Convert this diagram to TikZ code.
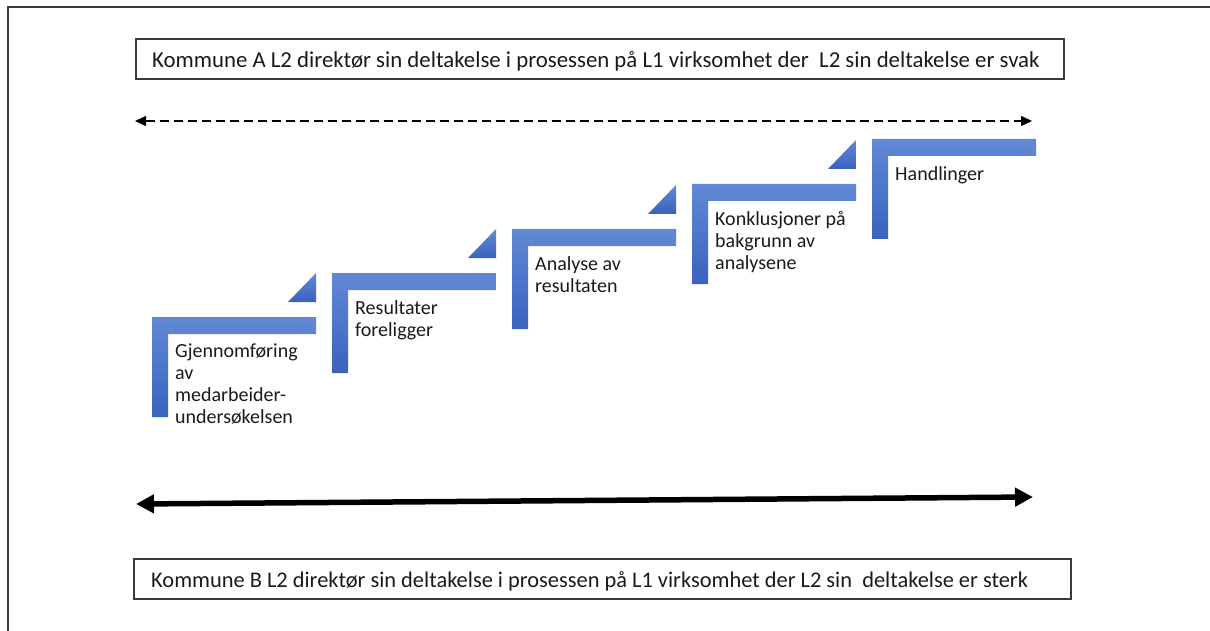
\documentclass[tikz,border=0pt]{standalone}
\usepackage{fontspec}
\setmainfont{Carlito}
\usetikzlibrary{arrows.meta}
\definecolor{steplight}{HTML}{6189D4}
\definecolor{stepdark}{HTML}{3A62BF}
\definecolor{framegray}{HTML}{3A3A3A}
\definecolor{inktext}{HTML}{1A1A1A}
\tikzset{
  headbox/.style={draw=framegray, line width=1.3pt, minimum height=40pt, inner sep=0pt},
  headtext/.style={anchor=west, inner sep=0pt, text=inktext},
  steplabel/.style={anchor=north west, align=left, inner sep=0pt, text=inktext, font=\fontsize{20}{22}\selectfont},
  stepshade/.style={top color=steplight, bottom color=stepdark, draw=none},
  weakarrow/.style={dash pattern=on 9pt off 5pt, line width=1.4pt, {Triangle[length=11pt,width=10pt]}-{Triangle[length=11pt,width=10pt]}},
  strongarrow/.style={line width=5.5pt, {Triangle[length=18pt,width=18pt]}-{Triangle[length=18pt,width=18pt]}}
}
\begin{document}
\begin{tikzpicture}[x=1pt,y=-1pt]
\useasboundingbox (0,0) rectangle (1210,631);
% page frame (top and left edges)
\draw[framegray, line width=1.3pt] (1210,7) -- (8,7) -- (8,631);

% headline boxes
\node[headbox, minimum width=928pt] (kommuneA) at (600,59) {};
\node[headtext, font=\fontsize{22.8}{26}\selectfont] (textA) at (152,61)
  {Kommune A L2 direktør sin deltakelse i prosessen på L1 virksomhet der\ \ L2 sin deltakelse er svak};
\node[headbox, minimum width=937pt] (kommuneB) at (602.5,579) {};
\node[headtext, font=\fontsize{22.4}{26}\selectfont] (textB) at (151,581)
  {Kommune B L2 direktør sin deltakelse i prosessen på L1 virksomhet der L2 sin\ \ deltakelse er sterk};

% arrows
\coordinate (weakL) at (135,121);
\coordinate (weakR) at (1032,121);
\draw[weakarrow] (weakL) -- (weakR);
\coordinate (strongL) at (136,504);
\coordinate (strongR) at (1033,497);
\draw[strongarrow] (strongL) -- (strongR);

% staircase of steps: left x, top y, label
\foreach \sx/\sy/\name/\txt in {
  152/317/stepA/{Gjennomføring\\av\\medarbeider-\\undersøkelsen},
  332/273/stepB/{Resultater\\foreligger},
  512/229/stepC/{Analyse av\\resultaten},
  692/184/stepD/{Konklusjoner på\\bakgrunn av\\analysene},
  872/139/stepE/{Handlinger}} {
  \shade[stepshade] (\sx,\sy) -- (\sx+164,\sy) -- (\sx+164,\sy+17) -- (\sx+16,\sy+17)
    -- (\sx+16,\sy+100) -- (\sx,\sy+100) -- cycle;
  \node[steplabel] (\name) at (\sx+23,\sy+27) {\txt};
}
% small wedges leading up to the next step
\foreach \sx/\sy in {152/317, 332/273, 512/229, 692/184} {
  \shade[stepshade] (\sx+136,\sy-15) -- (\sx+164,\sy-15) -- (\sx+164,\sy-44) -- cycle;
}
\end{tikzpicture}
\end{document}
